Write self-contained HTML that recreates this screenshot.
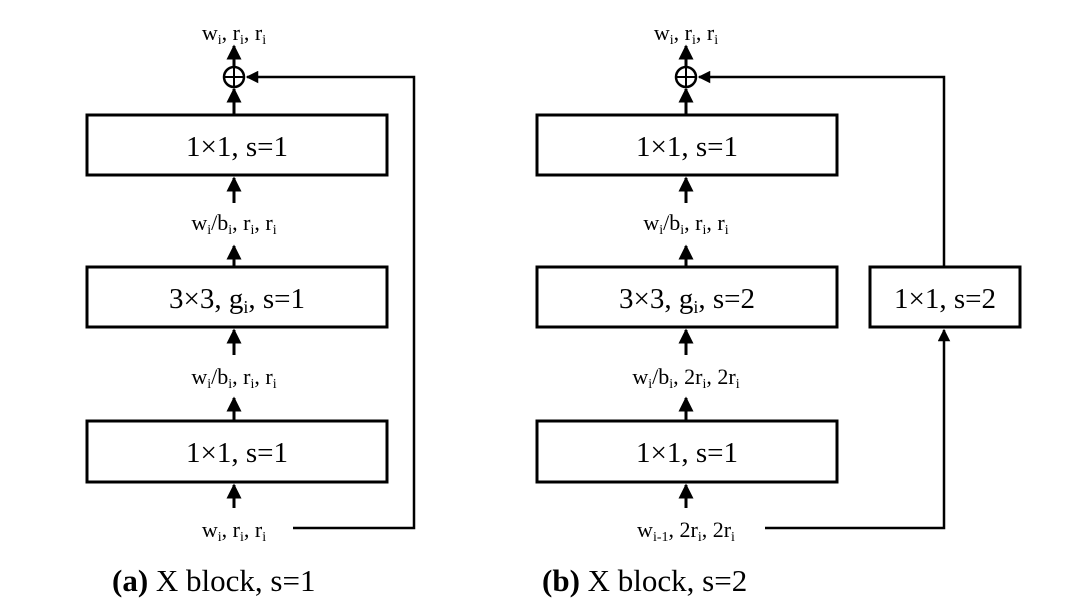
<!DOCTYPE html>
<html><head><style>body{margin:0;background:#fff}svg{display:block}text{font-family:"Liberation Serif",serif;fill:#000}</style></head><body>
<svg width="1080" height="616" viewBox="0 0 1080 616" xmlns="http://www.w3.org/2000/svg">
<defs><marker id="a" viewBox="0 0 10 10" refX="9" refY="5" markerWidth="5" markerHeight="5" orient="auto"><path d="M0,0L10,5L0,10z" fill="#000"/></marker></defs>
<g stroke="#000" stroke-width="3" fill="none">
<rect x="87" y="115" width="300" height="60"/>
<rect x="87" y="267" width="300" height="60"/>
<rect x="87" y="421" width="300" height="61"/>
<circle cx="234" cy="77" r="10" stroke-width="2.5"/>
<line x1="224" y1="77" x2="244" y2="77" stroke-width="2"/><line x1="234" y1="67" x2="234" y2="87" stroke-width="2"/>
<line x1="234" y1="114" x2="234" y2="89" marker-end="url(#a)"/>
<line x1="234" y1="66" x2="234" y2="46" marker-end="url(#a)"/>
<line x1="234" y1="203" x2="234" y2="178" marker-end="url(#a)"/>
<line x1="234" y1="266" x2="234" y2="246" marker-end="url(#a)"/>
<line x1="234" y1="355" x2="234" y2="330" marker-end="url(#a)"/>
<line x1="234" y1="420" x2="234" y2="398" marker-end="url(#a)"/>
<line x1="234" y1="508" x2="234" y2="485" marker-end="url(#a)"/>
<polyline points="293,528 414,528 414,77 247,77" marker-end="url(#a)" stroke-width="2.5"/>
<rect x="537" y="115" width="300" height="60"/>
<rect x="537" y="267" width="300" height="60"/>
<rect x="537" y="421" width="300" height="61"/>
<rect x="870" y="267" width="150" height="60"/>
<circle cx="686" cy="77" r="10" stroke-width="2.5"/>
<line x1="676" y1="77" x2="696" y2="77" stroke-width="2"/><line x1="686" y1="67" x2="686" y2="87" stroke-width="2"/>
<line x1="686" y1="114" x2="686" y2="89" marker-end="url(#a)"/>
<line x1="686" y1="66" x2="686" y2="46" marker-end="url(#a)"/>
<line x1="686" y1="203" x2="686" y2="178" marker-end="url(#a)"/>
<line x1="686" y1="266" x2="686" y2="246" marker-end="url(#a)"/>
<line x1="686" y1="355" x2="686" y2="330" marker-end="url(#a)"/>
<line x1="686" y1="420" x2="686" y2="398" marker-end="url(#a)"/>
<line x1="686" y1="508" x2="686" y2="485" marker-end="url(#a)"/>
<polyline points="765,528 944,528 944,330" marker-end="url(#a)" stroke-width="2.5"/>
<polyline points="944,267 944,77 699,77" marker-end="url(#a)" stroke-width="2.5"/>
</g>
<g font-size="22" text-anchor="middle">
<text x="234" y="40">w<tspan font-size="14" dy="4">i</tspan><tspan dy="-4">, r</tspan><tspan font-size="14" dy="4">i</tspan><tspan dy="-4">, r</tspan><tspan font-size="14" dy="4">i</tspan></text>
<text x="234" y="230">w<tspan font-size="14" dy="4">i</tspan><tspan dy="-4">/b</tspan><tspan font-size="14" dy="4">i</tspan><tspan dy="-4">, r</tspan><tspan font-size="14" dy="4">i</tspan><tspan dy="-4">, r</tspan><tspan font-size="14" dy="4">i</tspan></text>
<text x="234" y="384">w<tspan font-size="14" dy="4">i</tspan><tspan dy="-4">/b</tspan><tspan font-size="14" dy="4">i</tspan><tspan dy="-4">, r</tspan><tspan font-size="14" dy="4">i</tspan><tspan dy="-4">, r</tspan><tspan font-size="14" dy="4">i</tspan></text>
<text x="234" y="537">w<tspan font-size="14" dy="4">i</tspan><tspan dy="-4">, r</tspan><tspan font-size="14" dy="4">i</tspan><tspan dy="-4">, r</tspan><tspan font-size="14" dy="4">i</tspan></text>
<text x="686" y="40">w<tspan font-size="14" dy="4">i</tspan><tspan dy="-4">, r</tspan><tspan font-size="14" dy="4">i</tspan><tspan dy="-4">, r</tspan><tspan font-size="14" dy="4">i</tspan></text>
<text x="686" y="230">w<tspan font-size="14" dy="4">i</tspan><tspan dy="-4">/b</tspan><tspan font-size="14" dy="4">i</tspan><tspan dy="-4">, r</tspan><tspan font-size="14" dy="4">i</tspan><tspan dy="-4">, r</tspan><tspan font-size="14" dy="4">i</tspan></text>
<text x="686" y="384">w<tspan font-size="14" dy="4">i</tspan><tspan dy="-4">/b</tspan><tspan font-size="14" dy="4">i</tspan><tspan dy="-4">, 2r</tspan><tspan font-size="14" dy="4">i</tspan><tspan dy="-4">, 2r</tspan><tspan font-size="14" dy="4">i</tspan></text>
<text x="686" y="537">w<tspan font-size="14" dy="4">i-1</tspan><tspan dy="-4">, 2r</tspan><tspan font-size="14" dy="4">i</tspan><tspan dy="-4">, 2r</tspan><tspan font-size="14" dy="4">i</tspan></text>
</g>
<g font-size="29" text-anchor="middle">
<text x="237" y="156">1×1, s=1</text>
<text x="237" y="308">3×3, g<tspan font-size="18" dy="5">i</tspan><tspan dy="-5">, s=1</tspan></text>
<text x="237" y="462">1×1, s=1</text>
<text x="687" y="156">1×1, s=1</text>
<text x="687" y="308">3×3, g<tspan font-size="18" dy="5">i</tspan><tspan dy="-5">, s=2</tspan></text>
<text x="687" y="462">1×1, s=1</text>
<text x="945" y="308">1×1, s=2</text>
</g>
<g font-size="31">
<text x="112" y="591"><tspan font-weight="bold">(a)</tspan> X block, s=1</text>
<text x="542" y="591"><tspan font-weight="bold">(b)</tspan> X block, s=2</text>
</g>
</svg>
</body></html>
